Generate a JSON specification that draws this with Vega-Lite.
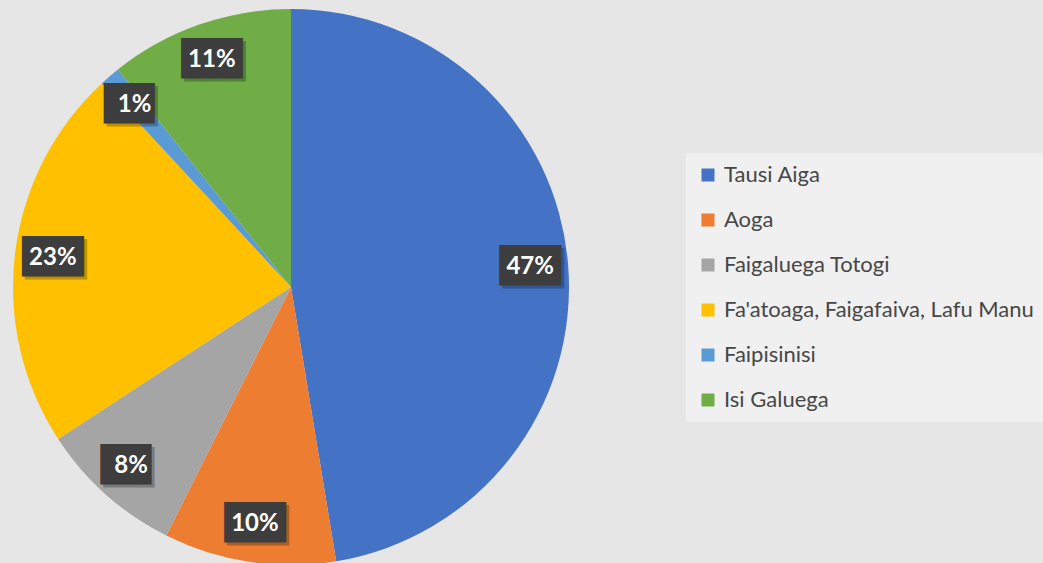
{
  "$schema": "https://vega.github.io/schema/vega-lite/v6.json",
  "width": 582,
  "height": 552,
  "autosize": {"type": "none"},
  "padding": {"left": 0, "top": 11, "right": 461, "bottom": 0},
  "background": "#e6e6e6",
  "config": {"view": {"stroke": null}},
  "data": {
    "values": [
      {"idx": 1, "category": "Tausi Aiga", "share": 47.4, "label": "47%"},
      {"idx": 2, "category": "Aoga", "share": 10.0, "label": "10%"},
      {"idx": 3, "category": "Faigaluega Totogi", "share": 8.4, "label": "8%"},
      {"idx": 4, "category": "Fa'atoaga, Faigafaiva, Lafu Manu", "share": 22.3, "label": "23%"},
      {"idx": 5, "category": "Faipisinisi", "share": 1.2, "label": "1%"},
      {"idx": 6, "category": "Isi Galuega", "share": 10.7, "label": "11%"}
    ]
  },
  "encoding": {
    "theta": {"field": "share", "type": "quantitative", "stack": true},
    "order": {"field": "idx", "type": "quantitative"}
  },
  "layer": [
    {
      "mark": {"type": "arc", "radius": 278},
      "encoding": {
        "color": {
          "field": "category",
          "type": "nominal",
          "scale": {
            "domain": ["Tausi Aiga", "Aoga", "Faigaluega Totogi", "Fa'atoaga, Faigafaiva, Lafu Manu", "Faipisinisi", "Isi Galuega"],
            "range": ["#4472C4", "#ED7D31", "#A5A5A5", "#FFC000", "#5B9BD5", "#70AD47"]
          },
          "legend": {
            "title": null,
            "orient": "none",
            "legendX": 686,
            "legendY": 142,
            "symbolType": "square",
            "symbolSize": 169,
            "symbolStrokeWidth": 0,
            "symbolOpacity": 1,
            "labelFont": "Lato",
            "labelFontSize": 22,
            "labelColor": "#474747",
            "labelOffset": 5,
            "labelLimit": 0,
            "rowPadding": 23,
            "padding": 11,
            "fillColor": "#f0f0f0"
          }
        }
      }
    },
    {
      "mark": {"type": "text", "radius": 240, "font": "DejaVu Sans Mono", "fontSize": 34, "color": "#000000", "opacity": 0.25, "dx": 3, "dy": 3, "baseline": "middle", "align": "center"},
      "encoding": {
        "text": {"condition": {"test": "length(datum.label) > 2", "value": "███"}, "value": "██▌"}
      }
    },
    {
      "mark": {"type": "text", "radius": 240, "font": "DejaVu Sans Mono", "fontSize": 34, "color": "#3d3d3d", "baseline": "middle", "align": "center"},
      "encoding": {
        "text": {"condition": {"test": "length(datum.label) > 2", "value": "███"}, "value": "██▌"}
      }
    },
    {
      "mark": {"type": "text", "radius": 240, "font": "Lato", "fontWeight": "bold", "fontSize": 24, "color": "#ffffff", "baseline": "middle", "align": "center"},
      "encoding": {
        "text": {"field": "label", "type": "nominal"}
      }
    }
  ]
}
